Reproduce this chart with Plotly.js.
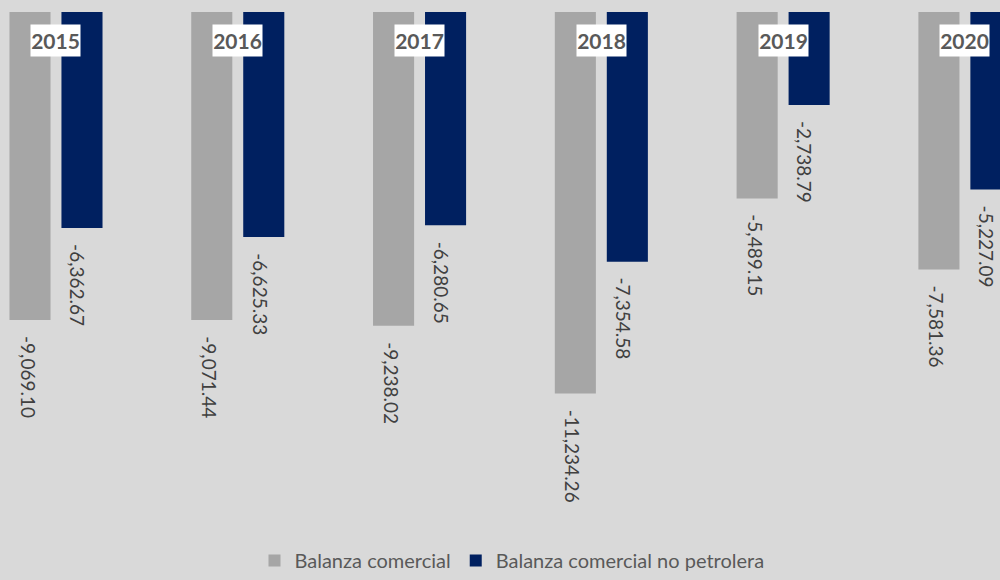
<!DOCTYPE html>
<html>
<head>
<meta charset="utf-8">
<script src="https://cdn.plot.ly/plotly-3.0.1.min.js"></script>
<style>html,body{margin:0;padding:0;background:#d9d9d9;}#chart{width:1000px;height:580px;}</style>
</head>
<body>
<div id="chart"></div>
<script>
const years = ["2015", "2016", "2017", "2018", "2019", "2020"];
const balanzaComercial = [-9069.10, -9071.44, -9238.02, -11234.26, -5489.15, -7581.36];
const balanzaNoPetrolera = [-6362.67, -6625.33, -6280.65, -7354.58, -2738.79, -5227.09];
const seriesNames = ["Balanza comercial", "Balanza comercial no petrolera"];

const fmt = v => v.toLocaleString('en-US', {minimumFractionDigits: 2, maximumFractionDigits: 2});

const traces = [
  {type: 'bar', name: seriesNames[0], x: years, y: balanzaComercial, marker: {color: '#a6a6a6'}, hoverinfo: 'none'},
  {type: 'bar', name: seriesNames[1], x: years, y: balanzaNoPetrolera, marker: {color: '#002060'}, hoverinfo: 'none'}
];

const labelFont = {family: 'Lato, sans-serif', size: 19, color: '#404040'};
const annotations = [];
years.forEach((yr, i) => {
  annotations.push({x: i, y: 0.944, xref: 'x', yref: 'paper', yanchor: 'middle', text: '<b>' + yr + '</b>', showarrow: false,
    bgcolor: '#ffffff', borderpad: 0, width: 49, height: 31, font: {family: 'Lato, sans-serif', size: 21, color: '#595959'}});
  annotations.push({x: i, y: balanzaComercial[i], xref: 'x', yref: 'y', text: fmt(balanzaComercial[i]), showarrow: false,
    textangle: 90, yanchor: 'top', xshift: -28, yshift: -14, font: labelFont});
  annotations.push({x: i, y: balanzaNoPetrolera[i], xref: 'x', yref: 'y', text: fmt(balanzaNoPetrolera[i]), showarrow: false,
    textangle: 90, yanchor: 'top', xshift: 22, yshift: -14, font: labelFont});
});

const hiddenAxis = {showgrid: false, zeroline: false, showline: false, showticklabels: false, ticks: '', fixedrange: true};

const layout = {
  width: 1000, height: 580,
  paper_bgcolor: '#d9d9d9', plot_bgcolor: '#d9d9d9',
  margin: {l: 0, r: 0, t: 12, b: 60},
  barmode: 'group', bargap: 0.428, bargroupgap: 0.21,
  xaxis: Object.assign({type: 'category', range: [-0.308, 5.193]}, hiddenAxis),
  yaxis: Object.assign({range: [-14959, 0]}, hiddenAxis),
  showlegend: true,
  legend: {orientation: 'h', xref: 'paper', x: 0.512, xanchor: 'center', yref: 'container', y: -0.016, yanchor: 'bottom',
    font: {family: 'Lato, sans-serif', size: 20, color: '#595959'}, bgcolor: 'rgba(0,0,0,0)'},
  annotations: annotations
};

Plotly.newPlot('chart', traces, layout, {displayModeBar: false, staticPlot: true});
</script>
</body>
</html>
